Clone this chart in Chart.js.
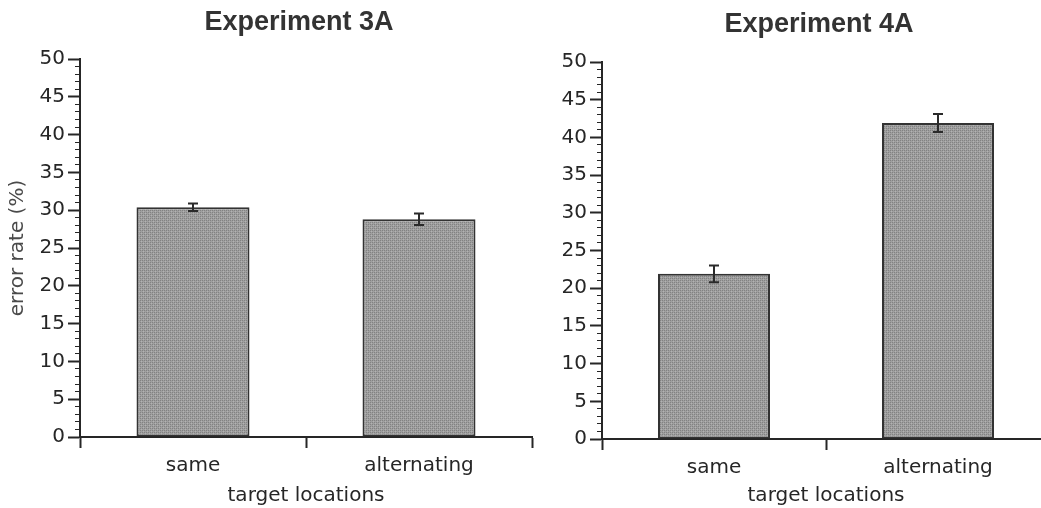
<!DOCTYPE html>
<html>
<head>
<meta charset="utf-8">
<script src="https://cdn.jsdelivr.net/npm/chart.js@4.4.1/dist/chart.umd.min.js"></script>
<style>
  html, body { margin: 0; padding: 0; background: #fff; width: 1041px; height: 508px; overflow: hidden; position: relative; }
  #wrapA { position: absolute; left: 0; top: 0; width: 598px; height: 508px; }
  #wrapB { position: absolute; left: 540px; top: 0; width: 558px; height: 508px; }
</style>
</head>
<body>
<div id="wrapA"><canvas id="chartA"></canvas></div>
<div id="wrapB"><canvas id="chartB"></canvas></div>
<script>
// ---- data ----
const categories = ['same', 'alternating'];
const titleA = 'Experiment 3A';
const titleB = 'Experiment 4A';
const valuesA = [30.4, 28.8];
const errorsA = [0.5, 0.75];
const valuesB = [21.9, 41.9];
const errorsB = [1.1, 1.2];
const yLabel = 'error rate (%)';
const xLabel = 'target locations';
const yMin = 0, yMax = 50, yMinorStep = 1, yMajorStep = 5;

// ---- styling ----
const FONT = '"DejaVu Sans", Verdana, sans-serif';
const TITLE_FONT = '"Liberation Sans", Arial, Helvetica, sans-serif';
const INK = '#262626';

function makePattern() {
  const c = document.createElement('canvas');
  c.width = 4; c.height = 4;
  const g = c.getContext('2d');
  g.fillStyle = '#9f9f9f'; g.fillRect(0, 0, 4, 4);
  g.fillStyle = '#828282';
  g.fillRect(0, 0, 1, 1); g.fillRect(2, 2, 1, 1); g.fillRect(0, 2, 1, 1); g.fillRect(2, 0, 1, 1);
  g.fillStyle = '#b2b2b2';
  g.fillRect(1, 1, 1, 1); g.fillRect(3, 3, 1, 1);
  return g.createPattern(c, 'repeat');
}
const pattern = makePattern();

const errorBarPlugin = {
  id: 'errorBars',
  afterDatasetsDraw(chart, args, opts) {
    const errs = opts.errors || [];
    const meta = chart.getDatasetMeta(0);
    const ys = chart.scales.y;
    const vals = chart.data.datasets[0].data;
    const ctx = chart.ctx;
    ctx.save();
    ctx.strokeStyle = '#2a2a2a';
    ctx.lineWidth = 2;
    meta.data.forEach((bar, i) => {
      const e = errs[i];
      if (e == null) return;
      const x = bar.x;
      const yt = ys.getPixelForValue(vals[i] + e);
      const yb = ys.getPixelForValue(vals[i] - e);
      ctx.beginPath();
      ctx.moveTo(x, yt); ctx.lineTo(x, yb);
      ctx.moveTo(x - 5, yt); ctx.lineTo(x + 5, yt);
      ctx.moveTo(x - 5, yb); ctx.lineTo(x + 5, yb);
      ctx.stroke();
    });
    ctx.restore();
  }
};

const titleAtPlugin = {
  id: 'titleAt',
  afterDraw(chart, args, opts) {
    const ctx = chart.ctx;
    ctx.save();
    ctx.fillStyle = opts.color;
    ctx.font = 'bold ' + opts.size + 'px ' + TITLE_FONT;
    ctx.textAlign = 'center';
    ctx.textBaseline = 'middle';
    ctx.fillText(opts.text, opts.x, opts.y);
    ctx.restore();
  }
};

function makeConfig(o) {
  return {
    type: 'bar',
    data: {
      labels: categories,
      datasets: [{
        data: o.values,
        backgroundColor: pattern,
        borderColor: '#333333',
        borderWidth: 2,
        borderSkipped: false,
        barPercentage: 0.5,
        categoryPercentage: 1.0
      }]
    },
    plugins: [errorBarPlugin, titleAtPlugin],
    options: {
      responsive: false,
      animation: false,
      devicePixelRatio: 1,
      layout: { padding: { left: 0, right: o.padRight, top: o.padTop, bottom: 0 } },
      plugins: {
        legend: { display: false },
        tooltip: { enabled: false },
        title: { display: false },
        titleAt: { text: o.title, x: o.titleX, y: o.titleY, size: 27, color: '#333' },
        errorBars: { errors: o.errors }
      },
      scales: {
        x: {
          type: 'category',
          offset: true,
          grid: { display: true, offset: true, drawOnChartArea: false, tickLength: 11, tickColor: INK, tickWidth: 2 },
          border: { display: true, color: INK, width: 2 },
          ticks: { color: INK, font: { family: FONT, size: 20 }, padding: 6 },
          title: { display: true, text: xLabel, color: INK, font: { family: FONT, size: 20, lineHeight: 1.2 }, padding: { top: 0, bottom: 0 } },
          afterFit: (s) => { s.height = o.xHeight; }
        },
        y: {
          min: yMin, max: yMax,
          grid: {
            display: true, drawOnChartArea: false, tickLength: 12, tickColor: INK,
            tickWidth: (c) => (c.tick && c.tick.value % yMajorStep === 0) ? 2 : 1.2,
            tickBorderDash: (c) => (c.tick && c.tick.value % yMajorStep === 0) ? [] : [0, 7, 5, 100]
          },
          border: { display: true, color: INK, width: 2 },
          ticks: {
            stepSize: yMinorStep, autoSkip: false, color: INK, padding: 3,
            font: { family: FONT, size: 20 },
            callback: (v) => (v % yMajorStep === 0 ? String(v) : '')
          },
          title: { display: o.showYTitle, text: yLabel, color: '#4a4a4a', font: { family: FONT, size: 20, lineHeight: 1.2 }, padding: { top: 6, bottom: 0 } },
          afterFit: (s) => { s.width = o.yWidth; }
        }
      }
    }
  };
}

function setup(id, w, h) {
  const c = document.getElementById(id);
  c.width = w; c.height = h;
  c.style.width = w + 'px'; c.style.height = h + 'px';
  return c;
}

new Chart(setup('chartA', 598, 508), makeConfig({
  values: valuesA, errors: errorsA, title: titleA, titleX: 299, titleY: 23,
  padRight: 66, padTop: 59, xHeight: 71, yWidth: 80, showYTitle: true
}));
new Chart(setup('chartB', 558, 508), makeConfig({
  values: valuesB, errors: errorsB, title: titleB, titleX: 279, titleY: 25,
  padRight: 48, padTop: 62, xHeight: 69, yWidth: 62, showYTitle: false
}));
</script>
</body>
</html>
